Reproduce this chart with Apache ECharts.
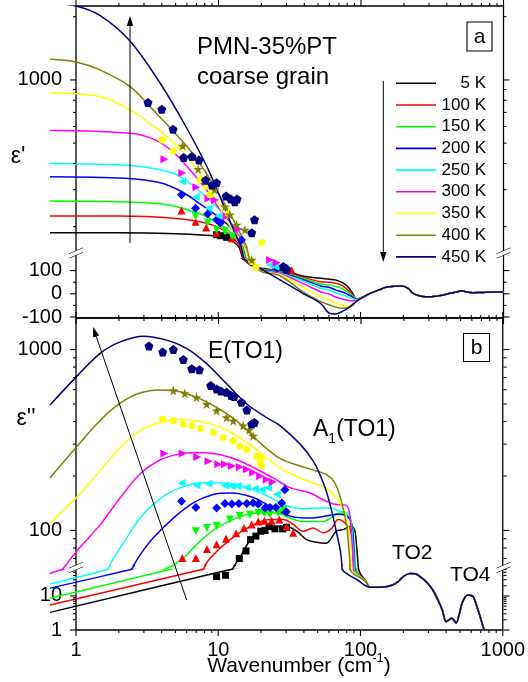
<!DOCTYPE html>
<html><head><meta charset="utf-8">
<script src="https://cdn.jsdelivr.net/npm/echarts@6/dist/echarts.min.js"></script>
<style>html,body{margin:0;padding:0;background:#fff}#c{width:528px;height:682px}</style>
</head><body><div id="c"></div>
<script>
// ---------------- DATA ----------------
const temps = ['5 K','100 K','150 K','200 K','250 K','300 K','350 K','400 K','450 K'];
const xTickMajor = [1,10,100,1000];
const xTickMinor = [2,3,4,5,6,7,8,9,20,30,40,50,60,70,80,90,200,300,400,500,600,700,800,900];
const yTickA1Major = [1000], yTickA1Minor = [200,300,400,500,600,700,800,900,2000];
const yTickA2Major = [-100,0,100], yTickA2Minor = [-50,50];
const yTickB1Major = [100,1000], yTickB1Minor = [70,80,90,200,300,400,500,600,700,800,900];
const yTickB2Major = [1,10], yTickB2Minor = [2,3,4,5,6,7,8,9,20,30,40,50,60];

// eps' fits (low-frequency part) + shared high-frequency tail
const reTail = [[105,-12],[116,2],[135,18],[150,28],[170,33],[188,34],[200,32],[215,22],[232,2],[250,-6],[272,-12],[300,-13],[338,-10],[380,-5],[422,2],[470,8],[509,13],[550,8],[610,5],[700,6],[843,8],[1000,8]];
const re5   = [[0.657,187],[2,187],[5,185],[8,182],[10,179],[12,172],[13.5,164],[15,148],[17,122],[20,110],[27,100],[39,77],[52,67],[60,63],[67,59],[74,48],[80,34],[87,5],[93,-22]];
const re100 = [[0.657,225],[2,225],[3.9,222],[5,219],[7.4,211],[9.7,200],[12,183],[13.5,168],[15,150],[17,125],[20,108],[27,97],[39,72],[52,52],[60,50],[67,45],[74,35],[80,19],[87,-2],[93,-23]];
const re150 = [[0.657,265],[2,263],[3.9,257],[5.6,245],[8.2,224],[10.9,200],[13,179],[15,158],[17,130],[20,106],[27,95],[39,67],[52,42],[60,38],[67,31],[74,22],[80,9],[87,-8],[93,-24]];
const re200 = [[0.657,346],[2.2,340],[3.9,324],[5.5,294],[7.6,254],[10.3,219],[12.7,193],[14.5,170],[17,132],[20,104],[27,92],[39,62],[52,34],[60,27],[67,16],[74,8],[80,-1],[87,-14],[93,-25]];
const re250 = [[0.657,400],[2.4,391],[3.9,373],[5.37,347],[7.4,294],[9.6,250],[11.7,216],[14,180],[17,133],[20,102],[27,90],[39,55],[52,24],[60,15],[67,2],[74,-5],[80,-12],[87,-20],[93,-26]];
const re300 = [[0.657,574],[2.4,557],[3.6,518],[4.9,448],[6.3,373],[8.2,300],[10.3,240],[12.7,200],[15,165],[17,136],[20,100],[27,87],[39,45],[52,9],[60,-2],[67,-15],[74,-22],[80,-27],[87,-30],[93,-28]];
const re350 = [[0.657,870],[1.47,833],[2.4,720],[3.3,622],[4.6,518],[6.3,416],[7.9,334],[9.9,258],[11.7,208],[14,176],[17,138],[20,98],[27,83],[39,30],[52,-12],[60,-25],[67,-41],[74,-48],[80,-53],[87,-45],[93,-30]];
const re400 = [[0.657,1255],[1,1218],[1.47,1116],[2.4,929],[3.3,746],[4.6,589],[6.3,464],[8.2,360],[10.3,278],[12.7,216],[15,172],[17,142],[20,96],[27,78],[39,9],[52,-34],[60,-48],[67,-58],[74,-62],[80,-60],[87,-50],[93,-32]];
const re450 = [[0.657,2320],[1,2250],[1.47,2030],[2.4,1530],[3.9,964],[5.9,600],[8.3,386],[10.3,275],[12.7,195],[15,152],[17.5,126],[19.6,110],[27,60],[39,2],[52,-41],[60,-84],[66,-87],[74,-76],[84,-55],[95,-28]];

// eps'' fits + shared tail
const imTail = [[116,18],[135,18],[167,21],[185,28],[198,37],[221,46],[240,45],[260,37],[290,25],[319,15],[350,7],[372,3.9],[396,1.75],[415,2.0],[434,2.2],[450,1.9],[466,1.6],[490,3],[512,6.1],[540,9.5],[568,10.7],[595,10.3],[618,9.0],[650,5],[685,2.5],[733,1.0],[780,0.6]];
const im5   = [[0.657,3.3],[11.7,58],[14,70],[16.6,88],[19.6,99],[22.3,105],[30,105],[35.4,99],[41.5,89],[48.8,86],[57,85],[67,99],[75,101],[84,105],[88,104],[91,98],[94,75],[97,55],[100,42],[108,28]];
const im100 = [[0.657,5.4],[7.4,58],[8.7,70],[12,88.6],[16.6,105],[23,115],[28.5,115],[33.4,108],[39.3,99],[46,103],[54.4,97],[62.5,103],[69,115],[80,107],[86,95],[90,70],[94,50],[97,43],[108,27]];
const im150 = [[0.657,8.6],[4.95,65],[5.65,70],[7.4,87],[9.7,103],[13.4,117],[18.6,125],[25.6,125],[31.8,117],[39.3,112],[54.4,112],[64,120],[71,125],[80,122],[87,105],[91,65],[95,44],[108,27]];
const im200 = [[0.657,17],[2.3,57],[2.81,73],[3.49,91],[4.82,117],[6.64,142],[9.2,158],[12.3,161],[17.5,152],[23,136],[31.8,120],[44,117],[57,120],[67,123],[78,121],[86,108],[90,65],[93,46],[108,27]];
const im250 = [[0.657,22.5],[1.55,55],[1.83,70],[2.27,91],[2.81,117],[3.89,150],[5.37,172],[7.4,183],[10.3,183],[14.1,178],[19.6,162],[25,147],[30,137],[40,132],[51.6,133],[61,133],[70,128],[80,125],[85,112],[89,68],[92,47],[108,27]];
const im300 = [[0.657,46],[0.8,60],[1,76],[1.47,107],[2.04,151],[2.81,205],[3.89,245],[5.37,265],[7.4,270],[10.3,262],[14.1,242],[19.6,213],[25,192],[32,172],[44,161],[57,145],[67,139],[78,138],[83,125],[87,80],[90,48],[108,27]];
const im350 = [[0.657,110],[1,151],[1.47,213],[2.04,287],[2.81,356],[3.89,395],[5.37,410],[7.4,400],[10.3,372],[14.1,326],[19.6,270],[27,222],[37.4,195],[48.8,180],[57,172],[67,152],[75,132],[80,115],[84,85],[87,55],[89,49],[108,27]];
const im400 = [[0.657,195],[1,287],[1.47,404],[2.04,505],[2.81,575],[3.89,598],[5.37,585],[7.4,535],[10.3,465],[14.1,390],[19.6,305],[27,250],[37.4,227],[48.8,213],[57,204],[65,185],[72,150],[79,108],[83,72],[86,50],[108,27]];
const im450 = [[0.657,494],[1,704],[1.47,950],[2.04,1102],[2.97,1186],[4.33,1127],[6,1013],[8.25,836],[11.4,647],[15.8,500],[21.8,420],[27,380],[37.4,300],[46,243],[52,200],[57,165],[62,130],[67,99],[72,75],[76,52],[95,29]];

// measured eps' points
const pRe5   = [[9.7,183],[10.4,181],[11.4,178]];
const pRe100 = [[5.5,239],[6.9,211],[8.2,198],[9.7,187],[12.4,176],[30,107],[32.6,102]];
const pRe150 = [[6.9,224],[8.4,209],[9.7,194],[11.1,190],[12.5,180]];
const pRe200 = [[5.5,284],[6.9,245],[8.4,230],[9.7,216],[10.3,208],[14.5,173],[25.6,110],[28.5,118],[30,110]];
const pRe250 = [[5.55,328],[6.94,277],[8.5,245],[10,225],[23,124],[25,118],[27,114]];
const pRe300 = [[4.17,419],[5.57,360],[7.0,308],[8.5,272],[9.45,268],[11.4,224],[13.8,195],[23,146],[25.6,134]];
const pRe350 = [[4.03,518],[4.82,459],[7.4,334],[8.24,311],[8.7,284],[11.7,232],[20.1,168],[17.1,139],[18.3,114]];
const pRe400 = [[5.6,485],[7.2,376],[8.25,340],[9.4,300],[11.1,249],[12,228],[13.4,204],[15.3,193],[17.1,146]];
const pRe450 = [[3.2,780],[4.0,725],[4.8,582],[5.7,427],[6.5,432],[7.3,415],[8.1,333],[9.0,316],[9.7,324],[11.3,280],[12.2,271],[13.0,263],[13.5,271],[17.9,216],[17.1,187],[28.5,117],[30,106]];

// measured eps'' points
const pIm5   = [[9.7,37],[11.2,40.5],[14,70],[15.6,77],[16.8,89],[18.3,93],[19.8,99],[21.2,100],[22.7,105],[24.9,102],[28.2,102],[30,104]];
const pIm100 = [[5.57,70.5],[6.94,70.5],[8.3,79],[9.7,84],[11.3,90],[13.3,96.5],[15.1,103],[17.1,108],[19,112],[21,113],[23.6,113],[26.7,115],[30,105],[33.4,97]];
const pIm150 = [[6.94,99],[8.3,103],[9.7,106],[12,115],[14.1,120],[16.6,122],[19,125],[21,124],[23,122],[26.2,125],[28.5,130]];
const pIm200 = [[5.5,145],[6.94,134],[9.7,133],[11.1,141],[12.4,140],[13.9,141],[15.8,141],[17.5,142],[19,140],[21.2,133],[23,134],[25.3,134],[27.8,142],[29.2,168],[29.9,127]];
const pIm250 = [[5.5,183],[7.0,178],[8.5,181],[11.1,177],[12.4,176],[13.6,176],[15.8,173],[18,170],[20.1,168],[22.3,172],[25.6,158]];
const pIm300 = [[4.17,266],[5.6,266],[7.1,255],[8.5,241],[9.96,232],[11.1,232],[12.4,227],[14.1,224],[15.8,218],[17.5,209],[19.6,200],[21.8,191],[24,185]];
const pIm350 = [[4.06,413],[4.82,404],[5.66,387],[6.49,379],[7.5,366],[9.2,348],[10.8,326],[12.7,313],[14.1,293],[15.8,280],[18.5,258],[19.6,237],[20.1,253],[20.1,227]];
const pIm400 = [[4.82,594],[5.8,573],[7.0,544],[8.25,500],[9.7,460],[11.4,421],[12.7,404],[14.9,379],[16.4,360],[17.5,333]];
const pIm450 = [[3.25,1047],[4.06,970],[4.82,1000],[5.66,880],[6.49,784],[7.35,774],[8.82,633],[9.7,606],[10.4,590],[11.4,581],[12.3,557],[12.9,550],[14.5,511],[15.8,463],[17.1,387],[17.9,395]];

// ---------------- STYLE ----------------
const FONT = 'Liberation Sans, Arial, Helvetica, sans-serif';
const colors = ['#000000','#ff0000','#00ff00','#0000ff','#00ffff','#ff00ff','#ffff00','#808000','#000080'];
const STAR = 'path://M50,0 L61,35 L98,35 L68,57 L79,91 L50,70 L21,91 L32,57 L2,35 L39,35 Z';
const PENT = 'path://M50,0 L98,35 L79,91 L21,91 L2,35 Z';
const symbols = ['rect','triangle','triangle','diamond','triangle','triangle','circle',STAR,PENT];
const symRot = [0,0,180,0,90,-90,0,0,0];
const symSize = [7,8,8,9,8,8,7,10,9];

const fitRe = [re5,re100,re150,re200,re250,re300,re350,re400,re450];
const fitIm = [im5,im100,im150,im200,im250,im300,im350,im400,im450];
const ptsRe = [pRe5,pRe100,pRe150,pRe200,pRe250,pRe300,pRe350,pRe400,pRe450];
const ptsIm = [pIm5,pIm100,pIm150,pIm200,pIm250,pIm300,pIm350,pIm400,pIm450];

const XL = 76, XR = 24.5, XDL = 50;
const X_MIN_DATA = Math.pow(10, -(XL - XDL) / 142.5);

// axis segments: panel a = log | bridge | linear ; panel b = log | bridge | log
const grid = [
  {left:XL, right:XR, top:6, height:312, show:true, borderColor:'#000', borderWidth:1.3},
  {left:XL, right:XR, top:318, height:312, show:true, borderColor:'#000', borderWidth:1.3},
  {left:XDL, right:XR, top:6, height:241},
  {left:XDL, right:XR, top:259, height:58},
  {left:XDL, right:XR, top:318, height:247.5},
  {left:XDL, right:XR, top:569.5, height:60.5},
  {left:XDL, right:XR, top:247, height:12},
  {left:XDL, right:XR, top:565.5, height:4}
];
const lbl = {fontSize:20, color:'#000', fontFamily:FONT, margin:14, formatter:v=>String(Math.round(v))};
const noAx = {axisLine:{show:false}, axisTick:{show:false}, splitLine:{show:false}};
const xAxis = [
  {gridIndex:0, type:'log', min:1, max:1000, show:false},
  Object.assign({gridIndex:1, type:'log', min:1, max:1000, axisLabel:{fontSize:20, color:'#000', fontFamily:FONT, margin:10, formatter:v=>String(Math.round(v))}}, noAx)
];
for (let g = 2; g <= 7; g++) xAxis.push({gridIndex:g, type:'log', min:X_MIN_DATA, max:1000, show:false});
const yAxis = [
  {gridIndex:0, type:'value', min:0, max:1, show:false},
  {gridIndex:1, type:'value', min:0, max:1, show:false},
  Object.assign({gridIndex:2, type:'log', min:160, max:2250, offset:XDL-XL, axisLabel:Object.assign({showMinLabel:false, showMaxLabel:false}, lbl)}, noAx),
  Object.assign({gridIndex:3, type:'value', min:-100, max:150, interval:100, offset:XDL-XL, axisLabel:Object.assign({showMinLabel:true, showMaxLabel:false}, lbl)}, noAx),
  Object.assign({gridIndex:4, type:'log', min:64, max:1494, offset:XDL-XL, axisLabel:Object.assign({showMinLabel:false, showMaxLabel:false}, lbl)}, noAx),
  Object.assign({gridIndex:5, type:'log', min:1, max:60, offset:XDL-XL, axisLabel:Object.assign({showMinLabel:true, showMaxLabel:false}, lbl)}, noAx),
  {gridIndex:6, type:'value', min:150, max:160, show:false},
  {gridIndex:7, type:'value', min:60, max:64, show:false}
];

const series = [];
const sections = [
  {i:2, kind:'re', log:true}, {i:6, kind:'re', log:false}, {i:3, kind:'re', log:false},
  {i:4, kind:'im', log:true}, {i:7, kind:'im', log:false}, {i:5, kind:'im', log:true}
];
sections.forEach(sec => temps.forEach((t, k) => {
  let d = sec.kind === 're' ? fitRe[k].concat(reTail) : fitIm[k].concat(imTail);
  if (sec.log) d = d.filter(p => p[1] > 0);
  series.push({type:'line', name:t, xAxisIndex:sec.i, yAxisIndex:sec.i, data:d, showSymbol:false,
    smooth:0.35, clip:true, silent:true,
    lineStyle:{color:colors[k], width:1.5}, itemStyle:{color:colors[k]}, z:2});
}));
sections.forEach(sec => temps.forEach((t, k) => {
  series.push({type:'scatter', name:t, xAxisIndex:sec.i, yAxisIndex:sec.i,
    data: sec.kind === 're' ? ptsRe[k] : ptsIm[k], clip:true, silent:true,
    symbol:symbols[k], symbolRotate:symRot[k], symbolSize:symSize[k],
    itemStyle:{color:colors[k], opacity:1}, z:3});
}));

// ticks through the axes' own scales
function xTicks(gi, vals, len) {
  return {type:'custom', xAxisIndex:gi, yAxisIndex:gi, silent:true, z:10, clip:false,
    data: vals.map(v => [v, 0]),
    renderItem(params, api) {
      const v = api.value(0);
      const b = api.coord([v, 0]), t = api.coord([v, 1]);
      return {type:'group', children:[
        {type:'line', shape:{x1:b[0], y1:b[1], x2:b[0], y2:b[1] + len}, style:{stroke:'#000', lineWidth:1.1}},
        {type:'line', shape:{x1:t[0], y1:t[1], x2:t[0], y2:t[1] - len}, style:{stroke:'#000', lineWidth:1.1}}
      ]};
    }};
}
function yTicks(gi, vals, len) {
  return {type:'custom', xAxisIndex:gi, yAxisIndex:gi, silent:true, z:10, clip:false,
    data: vals.map(v => [1, v]),
    renderItem(params, api) {
      const v = api.value(1);
      const l = api.coord([1, v]), r = api.coord([1000, v]);
      return {type:'group', children:[
        {type:'line', shape:{x1:l[0] - len, y1:l[1], x2:l[0], y2:l[1]}, style:{stroke:'#000', lineWidth:1.1}},
        {type:'line', shape:{x1:r[0], y1:r[1], x2:r[0] + len, y2:r[1]}, style:{stroke:'#000', lineWidth:1.1}}
      ]};
    }};
}
[0,1].forEach(g => { series.push(xTicks(g, xTickMajor, 6)); series.push(xTicks(g, xTickMinor, 3)); });
series.push(yTicks(2, yTickA1Major, 6), yTicks(2, yTickA1Minor, 3));
series.push(yTicks(3, yTickA2Major, 6), yTicks(3, yTickA2Minor, 3));
series.push(yTicks(4, yTickB1Major, 6), yTicks(4, yTickB1Minor, 3));
series.push(yTicks(5, yTickB2Major, 6), yTicks(5, yTickB2Minor, 3));

// ---------------- ANNOTATIONS ----------------
const mctx = document.createElement('canvas').getContext('2d');
function tw(s, size) { mctx.font = size + 'px ' + FONT; return mctx.measureText(s).width; }
const graphic = [];
function txt(x, y, s, size, align) {
  graphic.push({type:'text', x:x, y:y, z:100, silent:true,
    style:{text:s, fontSize:size, fontFamily:FONT, fill:'#000', align:align || 'left', verticalAlign:'middle'}});
}
function seg(x1, y1, x2, y2, w) {
  graphic.push({type:'line', z:100, silent:true, shape:{x1, y1, x2, y2}, style:{stroke:'#000', lineWidth:w || 1}});
}
function arrow(x1, y1, x2, y2) {
  const a = Math.atan2(y2 - y1, x2 - x1), L = 10, W = 3.2;
  const bx = x2 - L * Math.cos(a), by = y2 - L * Math.sin(a);
  const px = -Math.sin(a) * W, py = Math.cos(a) * W;
  seg(x1, y1, bx, by, 1);
  graphic.push({type:'polygon', z:100, silent:true, shape:{points:[[x2, y2], [bx + px, by + py], [bx - px, by - py]]}, style:{fill:'#000'}});
}
function brk(x, y) {
  graphic.push({type:'polygon', z:101, silent:true, shape:{points:[[x-7, y+1], [x+7, y-5], [x+7, y-1], [x-7, y+5]]}, style:{fill:'#fff'}});
  seg(x-7, y+1, x+7, y-5, 1.1); seg(x-7, y+5, x+7, y-1, 1.1);
}
function box(x, y, w, h, s) {
  graphic.push({type:'rect', z:100, silent:true, shape:{x, y, width:w, height:h}, style:{fill:'#fff', stroke:'#000', lineWidth:1.1}});
  txt(x + w / 2, y + h / 2 + 1, s, 21, 'center');
}

txt(197, 47, 'PMN-35%PT', 24);
txt(197, 77, 'coarse grain', 24);
box(467, 22, 25, 29, 'a');
box(463.5, 333.5, 26, 28, 'b');
txt(18, 157, "\u03b5'", 23, 'center');
txt(26, 419, "\u03b5''", 23, 'center');
txt(208, 352, 'E(TO1)', 23);
(function(){
  const x0 = 313, y0 = 430;
  txt(x0, y0, 'A', 23);
  const wA = tw('A', 23);
  txt(x0 + wA, y0 + 9, '1', 14);
  txt(x0 + wA + tw('1', 14), y0, '(TO1)', 23);
})();
txt(392, 553, 'TO2', 21);
txt(450, 575, 'TO4', 21);
(function(){
  const s1 = 'Wavenumber (cm', s2 = '-1', s3 = ')';
  const w1 = tw(s1, 21), w2 = tw(s2, 13), w3 = tw(s3, 21);
  const x0 = 299 - (w1 + w2 + w3) / 2, y0 = 666;
  txt(x0, y0, s1, 21); txt(x0 + w1, y0 - 8, s2, 13); txt(x0 + w1 + w2, y0, s3, 21);
})();
// legend
temps.forEach((t, k) => {
  const y = 83.3 + k * 21.7;
  graphic.push({type:'line', z:100, silent:true, shape:{x1:396, y1:y, x2:436, y2:y}, style:{stroke:colors[k], lineWidth:1.6}});
  txt(486, y, t, 17, 'right');
});
arrow(383.3, 81, 383.3, 262);
arrow(130, 243, 130, 16);
arrow(186.7, 600, 93, 327);
brk(XL, 253); brk(528 - XR, 253);
brk(XL, 567.5); brk(528 - XR, 567.5);

const chart = echarts.init(document.getElementById('c'), null, {renderer:'canvas'});
chart.setOption({animation:false, backgroundColor:'#fff', grid, xAxis, yAxis, series, graphic});
</script></body></html>
